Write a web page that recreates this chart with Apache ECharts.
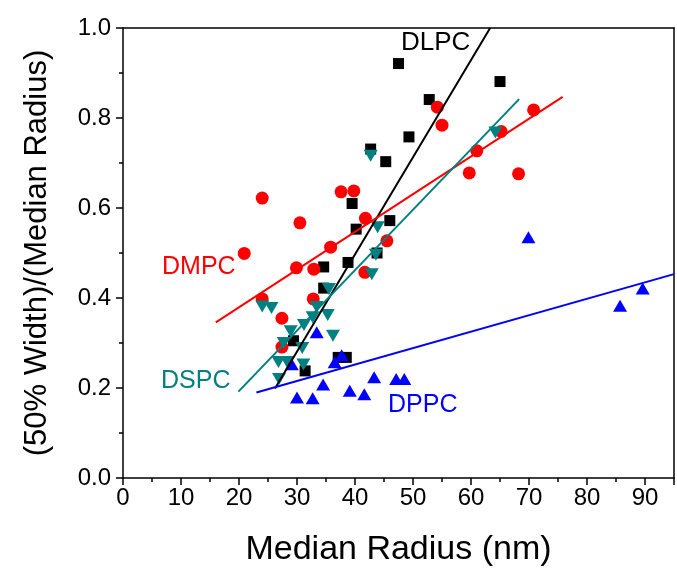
<!DOCTYPE html>
<html>
<head>
<meta charset="utf-8">
<script src="https://cdn.jsdelivr.net/npm/echarts@6/dist/echarts.min.js"></script>
<style>html,body{margin:0;padding:0;background:#fff}#c{width:677px;height:572px}</style>
</head>
<body>
<div id="c"></div>
<script>
// Data
var dlpc = [[47.5,0.921],[52.8,0.841],[65.0,0.881],[49.3,0.758],[45.3,0.703],[42.7,0.731],
  [39.5,0.610],[40.2,0.553],[46.0,0.572],[34.6,0.469],[38.8,0.479],[43.8,0.500],[34.6,0.422],
  [29.4,0.305],[31.4,0.238],[37.1,0.268],[38.5,0.268]];
var dmpc = [[20.9,0.499],[24.0,0.622],[24.0,0.398],[30.5,0.567],[29.9,0.467],[32.9,0.464],
  [27.4,0.355],[27.4,0.291],[32.8,0.398],[35.8,0.513],[37.6,0.636],[39.8,0.638],[41.8,0.577],
  [41.7,0.457],[45.5,0.527],[54.2,0.824],[55.0,0.784],[61.0,0.727],[59.7,0.678],[68.2,0.676],
  [70.8,0.818],[65.2,0.770]];
var dspc = [[24.0,0.381],[25.6,0.378],[28.9,0.326],[31.2,0.340],[32.7,0.357],[33.4,0.380],
  [35.3,0.362],[36.2,0.316],[35.5,0.420],[27.7,0.300],[30.9,0.289],[26.8,0.258],[28.3,0.258],
  [31.1,0.252],[26.9,0.220],[43.9,0.557],[43.6,0.496],[42.9,0.453],[42.7,0.716],[64.2,0.768]];
var dppc = [[33.4,0.324],[29.1,0.253],[34.5,0.208],[30.0,0.179],[32.7,0.177],[37.7,0.273],
  [36.5,0.257],[39.1,0.194],[41.6,0.186],[43.3,0.224],[47.1,0.220],[48.5,0.220],[69.9,0.535],
  [89.6,0.421],[85.7,0.383]];
var fitDLPC = [[26.2,0.199],[63.3,1.0]];
var fitDMPC = [[16.0,0.346],[75.8,0.847]];
var fitDSPC = [[19.9,0.192],[68.3,0.842]];
var fitDPPC = [[23.0,0.190],[95.0,0.453]];
var xTicks = [0,10,20,30,40,50,60,70,80,90];
var yTicks = ['0.0','0.2','0.4','0.6','0.8','1.0'];

var FONT = 'Liberation Sans, Arial, sans-serif';
var chart = echarts.init(document.getElementById('c'), null, {renderer:'canvas'});
var axisLine = {show:true,onZero:false,lineStyle:{color:'#000',width:1.5}};
chart.setOption({
  animation:false,
  backgroundColor:'#fff',
  grid:{left:123,top:28,width:551,height:452,containLabel:false},
  xAxis:[{
    type:'value',min:0,max:95,interval:10,position:'bottom',
    axisLine:axisLine,splitLine:{show:false},
    axisTick:{show:true,inside:false,length:7,lineStyle:{color:'#000',width:1.5}},
    minorTick:{show:true,splitNumber:2,length:4,lineStyle:{color:'#000',width:1.5}},
    axisLabel:{fontSize:24,color:'#000',fontFamily:FONT,margin:8,
      formatter:function(v){return xTicks.indexOf(v)>=0?String(v):'';}},
    name:'Median Radius (nm)',nameLocation:'middle',nameGap:55,
    nameTextStyle:{fontSize:34,color:'#000',fontFamily:FONT}
  },{
    type:'value',min:0,max:95,position:'top',
    axisLine:axisLine,axisTick:{show:false},axisLabel:{show:false},splitLine:{show:false}
  }],
  yAxis:[{
    type:'value',min:0,max:1,interval:0.2,position:'left',
    axisLine:axisLine,splitLine:{show:false},
    axisTick:{show:true,inside:false,length:7,lineStyle:{color:'#000',width:1.5}},
    minorTick:{show:true,splitNumber:2,length:4,lineStyle:{color:'#000',width:1.5}},
    axisLabel:{fontSize:24,color:'#000',fontFamily:FONT,margin:12,
      formatter:function(v){return yTicks[Math.round(v*5)];}},
    name:'(50% Width)/(Median Radius)',nameLocation:'middle',nameGap:70,
    nameTextStyle:{fontSize:31,color:'#000',fontFamily:FONT}
  },{
    type:'value',min:0,max:1,position:'right',
    axisLine:axisLine,axisTick:{show:false},axisLabel:{show:false},splitLine:{show:false}
  }],
  series:[
    {type:'scatter',data:dlpc,symbol:'rect',symbolSize:11,itemStyle:{color:'#000',opacity:1},z:2},
    {type:'scatter',data:dmpc,symbol:'circle',symbolSize:13,itemStyle:{color:'#FF0000',opacity:1},z:2},
    {type:'scatter',data:dspc,symbol:'triangle',symbolRotate:180,symbolSize:[14,12],itemStyle:{color:'#008080',opacity:1},z:3},
    {type:'scatter',data:dppc,symbol:'triangle',symbolSize:[14,12],itemStyle:{color:'#0000FF',opacity:1},z:3},
    {type:'line',data:fitDLPC,symbol:'none',lineStyle:{color:'#000',width:2},z:4,clip:true},
    {type:'line',data:fitDMPC,symbol:'none',lineStyle:{color:'#FF0000',width:2},z:4,clip:true},
    {type:'line',data:fitDSPC,symbol:'none',lineStyle:{color:'#008080',width:2},z:4,clip:true},
    {type:'line',data:fitDPPC,symbol:'none',lineStyle:{color:'#0000FF',width:2},z:4,clip:true}
  ],
  graphic:[
    {type:'text',left:401,top:30,style:{text:'DLPC',fontSize:26,fill:'#000',fontFamily:FONT}},
    {type:'text',left:162,top:255,style:{text:'DMPC',fontSize:25,fill:'#FF0000',fontFamily:FONT}},
    {type:'text',left:161,top:369,style:{text:'DSPC',fontSize:25,fill:'#008080',fontFamily:FONT}},
    {type:'text',left:388,top:393,style:{text:'DPPC',fontSize:25,fill:'#0000FF',fontFamily:FONT}}
  ]
});
</script>
</body>
</html>
